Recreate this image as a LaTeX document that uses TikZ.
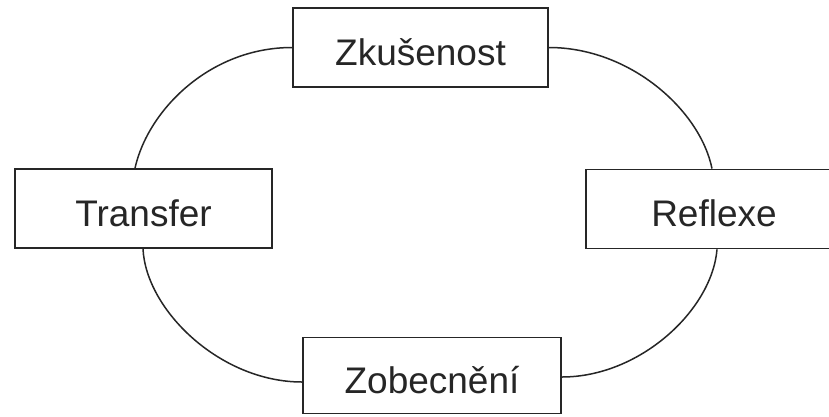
\documentclass[tikz,border=0pt]{standalone}
\usepackage{fontspec}
\setmainfont{Liberation Sans}
\begin{document}
\begin{tikzpicture}[x=1pt,y=-1pt,
  stage/.style={draw=black!85, line width=1.8pt, fill=white, inner sep=0pt,
    minimum height=79pt, text height=35pt, text depth=0pt,
    font=\fontsize{37}{40}\selectfont, text=black!85},
  arc/.style={draw=black!85, line width=1.5pt}]
\clip (0,0) rectangle (829,416);
\fill[white] (0,0) rectangle (829,416);
\node[stage, minimum width=255pt] (zk) at (420.5,47.5) {Zkušenost};
\node[stage, minimum width=257pt] (tr) at (143.5,208.5) {Transfer};
\node[stage, minimum width=256pt] (re) at (714,209) {Reflexe};
\node[stage, minimum width=258pt, minimum height=76pt] (zo) at (432,375.5) {Zobecnění};
\draw[arc] (zk.west) .. controls (210,47.5) and (148,110) .. ([xshift=-8.5pt]tr.north);
\draw[arc] ([xshift=-0.5pt]tr.south) .. controls (146,310) and (220,382) .. ([yshift=-6.5pt]zo.west);
\draw[arc] (zk.east) .. controls (630,47.5) and (700,110) .. ([xshift=-2pt]re.north);
\draw[arc] ([xshift=3pt]re.south) .. controls (712,310) and (640,377) .. ([yshift=-1.5pt]zo.east);
\end{tikzpicture}
\end{document}
